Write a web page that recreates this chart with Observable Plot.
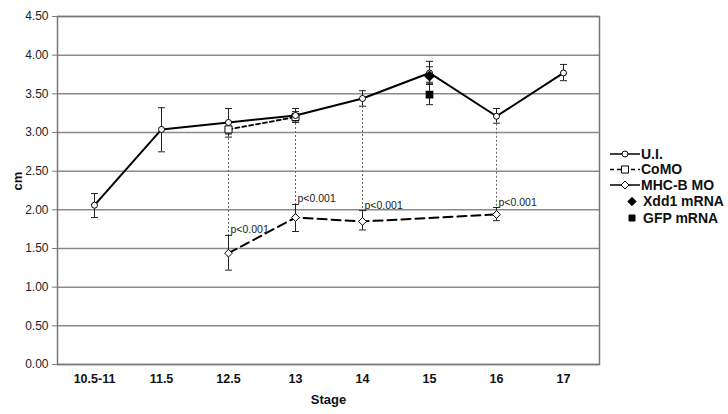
<!DOCTYPE html>
<html><head><meta charset="utf-8">
<script src="https://cdn.jsdelivr.net/npm/d3@7"></script>
<script src="https://cdn.jsdelivr.net/npm/@observablehq/plot@0.6"></script>
<style>
body{margin:0;background:#fff;}
#wrap{position:relative;width:728px;height:414px;font-family:"Liberation Sans",Arial,sans-serif;}
#wrap svg.legend{position:absolute;left:0;top:0;}
</style>
</head><body><div id="wrap"></div>
<script>
const stages = ["10.5-11","11.5","12.5","13","14","15","16","17"];
const yTicks = [0,0.5,1,1.5,2,2.5,3,3.5,4,4.5];

const uiMean = [2.06,3.04,3.13,3.22,3.44,3.77,3.21,3.77];
const uiLow  = [1.90,2.75,2.98,3.15,3.34,3.65,3.12,3.67];
const uiHigh = [2.21,3.32,3.31,3.31,3.54,3.92,3.31,3.88];

const comoStages = ["12.5","13"];
const comoMean = [3.04,3.20];
const comoLow  = [2.94,3.13];
const comoHigh = [3.14,3.27];

const mhcStages = ["12.5","13","14","16"];
const mhcMean = [1.44,1.90,1.85,1.94];
const mhcLow  = [1.22,1.72,1.74,1.86];
const mhcHigh = [1.67,2.07,1.99,2.03];

const xddStages = ["15"]; const xddMean = [3.73]; const xddLow = [3.62]; const xddHigh = [3.85];
const gfpStages = ["15"]; const gfpMean = [3.49]; const gfpLow = [3.36]; const gfpHigh = [3.63];

const pText = "p<0.001";

const mk = (st, m, lo, hi) => st.map((s,i)=>({stage:s, mean:m[i], low:lo[i], high:hi[i]}));
const ui = mk(stages, uiMean, uiLow, uiHigh);
const como = mk(comoStages, comoMean, comoLow, comoHigh);
const mhc = mk(mhcStages, mhcMean, mhcLow, mhcHigh);
const xdd = mk(xddStages, xddMean, xddLow, xddHigh);
const gfp = mk(gfpStages, gfpMean, gfpLow, gfpHigh);
const sig = mhc.map(d => ({stage:d.stage, top:uiMean[stages.indexOf(d.stage)], bottom:d.mean, high:d.high}));

const cap = {draw(ctx){ ctx.moveTo(-3.5,0); ctx.lineTo(3.5,0); }};
const errColor = "#222";
const errMarks = (data) => [
  Plot.ruleX(data, {x:"stage", y1:"low", y2:"high", stroke:errColor, strokeWidth:1}),
  Plot.dot(data, {x:"stage", y:"low", symbol:cap, stroke:errColor, fill:"none", strokeWidth:1}),
  Plot.dot(data, {x:"stage", y:"high", symbol:cap, stroke:errColor, fill:"none", strokeWidth:1})
];

const font = "Liberation Sans, Arial, sans-serif";
const plot = Plot.plot({
  width: 728, height: 414,
  marginLeft: 57, marginRight: 129, marginTop: 16, marginBottom: 50,
  style: {fontFamily: font, background: "#fff", overflow: "visible"},
  x: {type: "point", domain: stages, padding: 0.5, axis: null},
  y: {domain: [0, 4.5], axis: null},
  marks: [
    Plot.ruleY(yTicks, {stroke:"#8a8a8a", strokeWidth:1.5}),
    Plot.frame({stroke:"#777", strokeWidth:1.5}),
    Plot.axisY(yTicks, {tickSize:5, tickPadding:4, tickFormat:d3.format(".2f"), fontSize:12, fill:"#222", stroke:"#777", label:null}),
    Plot.axisX({tickSize:0, tickPadding:10, fontSize:12.5, fontWeight:"bold", fontFamily:"Liberation Sans Narrow, Arial Narrow, Liberation Sans, sans-serif", fill:"#111", label:null}),
    Plot.text(["cm"], {frameAnchor:"left", dx:-40, rotate:-90, fontSize:13, fontWeight:"bold", fill:"#111"}),
    Plot.text(["Stage"], {frameAnchor:"bottom", dy:39, fontSize:13, fontWeight:"bold", fill:"#111"}),
    Plot.ruleX(sig, {x:"stage", y1:"top", y2:"bottom", stroke:"#666", strokeWidth:1, strokeDasharray:"2,2"}),
    ...errMarks(ui), ...errMarks(como), ...errMarks(mhc), ...errMarks(xdd), ...errMarks(gfp),
    Plot.line(ui, {x:"stage", y:"mean", stroke:"#000", strokeWidth:2}),
    Plot.line(como, {x:"stage", y:"mean", stroke:"#000", strokeWidth:1.8, strokeDasharray:"4,3"}),
    Plot.line(mhc, {x:"stage", y:"mean", stroke:"#000", strokeWidth:2, strokeDasharray:"9,5"}),
    Plot.dot(como, {x:"stage", y:"mean", symbol:"square", r:4, fill:"#fff", stroke:"#000", strokeWidth:1}),
    Plot.dot(ui, {x:"stage", y:"mean", r:3, fill:"#fff", stroke:"#000", strokeWidth:1}),
    Plot.dot(mhc, {x:"stage", y:"mean", symbol:"diamond2", r:3.5, fill:"#fff", stroke:"#000", strokeWidth:1}),
    Plot.dot(xdd, {x:"stage", y:"mean", symbol:"diamond2", r:4, fill:"#000", stroke:"#000"}),
    Plot.dot(gfp, {x:"stage", y:"mean", symbol:"square", r:3.5, fill:"#000", stroke:"#000"}),
    Plot.text(sig, {x:"stage", y:"high", text:() => pText, textAnchor:"start", lineAnchor:"bottom", dx:2, dy:-2, fontSize:10.5, fill:"#222"})
  ]
});
const wrap = document.getElementById("wrap");
wrap.appendChild(plot);

// Legend
const legendItems = [
  {label:"U.I.", line:true, dash:null, sym:d3.symbolCircle, size:28, fill:"#fff"},
  {label:"CoMO", line:true, dash:"4,3", sym:d3.symbolSquare, size:50, fill:"#fff"},
  {label:"MHC-B MO", line:true, dash:null, sym:d3.symbolDiamond2, size:40, fill:"#fff"},
  {label:"Xdd1 mRNA", line:false, sym:d3.symbolDiamond2, size:44, fill:"#000"},
  {label:"GFP mRNA", line:false, sym:d3.symbolSquare, size:36, fill:"#000"}
];
const lsvg = d3.select(wrap).append("svg").attr("class","legend").attr("width",728).attr("height",414);
const rowY = [154, 169.5, 185, 201.5, 218];
legendItems.forEach((it, i) => {
  const g = lsvg.append("g").attr("transform", `translate(0,${rowY[i]})`);
  if (it.line) {
    g.append("line").attr("x1",610).attr("x2",640).attr("y1",0).attr("y2",0)
      .attr("stroke","#000").attr("stroke-width",1.5).attr("stroke-dasharray", it.dash);
    g.append("path").attr("d", d3.symbol(it.sym, it.size)()).attr("transform","translate(625,0)")
      .attr("fill", it.fill).attr("stroke","#000").attr("stroke-width",1);
  } else {
    g.append("path").attr("d", d3.symbol(it.sym, it.size)()).attr("transform","translate(632,0)")
      .attr("fill", it.fill).attr("stroke","#000");
  }
  g.append("text").attr("x", it.line ? 641 : 643).attr("y",0).attr("dy","0.35em")
    .attr("font-family", font).attr("font-size",14).attr("font-weight","bold").attr("fill","#111").text(it.label);
});
</script></body></html>
